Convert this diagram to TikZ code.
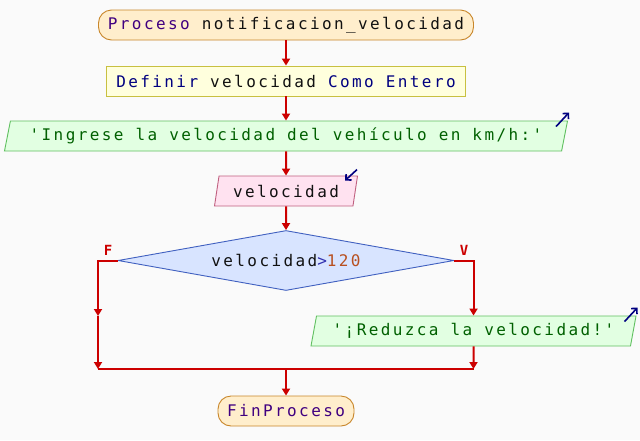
\documentclass[tikz,border=0pt]{standalone}
\usepackage{fontspec}
\setmonofont[LetterSpace=15]{DejaVu Sans Mono}
\usetikzlibrary{shapes.geometric,arrows.meta}

\definecolor{fondo}{HTML}{FAFAFA}
\definecolor{flecha}{HTML}{CC0000}
\definecolor{bordproc}{HTML}{C8862A}
\definecolor{rellproc}{HTML}{FFEECC}
\definecolor{borddef}{HTML}{C8C040}
\definecolor{relldef}{HTML}{FFFFDD}
\definecolor{bordesc}{HTML}{60C060}
\definecolor{rellesc}{HTML}{E2FFE2}
\definecolor{bordlee}{HTML}{C06080}
\definecolor{relllee}{HTML}{FFE2F0}
\definecolor{bordcond}{HTML}{4060C0}
\definecolor{rellcond}{HTML}{D8E4FF}
\definecolor{clave}{HTML}{400080}
\definecolor{tipo}{HTML}{000080}
\definecolor{cadena}{HTML}{006000}
\definecolor{numero}{HTML}{B85020}
\definecolor{oper}{HTML}{3030B0}
\definecolor{texto}{HTML}{111111}

\tikzset{
  caja/.style={draw, line width=0.9pt, text=texto, inner sep=0pt, minimum height=30pt,
    font=\ttfamily\fontsize{16}{16}\selectfont},
  terminal/.style={caja, rounded corners=13pt, draw=bordproc, fill=rellproc},
  definicion/.style={caja, draw=borddef, fill=relldef},
  paralelo/.style={caja, trapezium, trapezium left angle=70, trapezium right angle=110,
    trapezium stretches body},
  escribe/.style={paralelo, draw=bordesc, fill=rellesc, text=cadena},
  leer/.style={paralelo, draw=bordlee, fill=relllee},
  condicion/.style={caja, diamond, aspect=5.6, draw=bordcond, fill=rellcond, minimum width=336pt, minimum height=60pt},
  etiqueta/.style={text=flecha, font=\ttfamily\bfseries\fontsize{14}{14}\selectfont},
  flujo/.style={draw=flecha, line width=2pt, -{Triangle[width=8pt,length=7pt]}},
  linea/.style={draw=flecha, line width=2pt},
  icono/.style={draw=tipo, line width=1.6pt, -{Straight Barb[length=4pt,width=8pt]}}
}

\begin{document}
\begin{tikzpicture}[x=1pt,y=-1pt]
			\fill[fondo] (0,0) rectangle (640,440);

			\node (ini)[terminal, minimum width=375pt]at (286,25)  {\textcolor{clave}{Proceso} notificacion\_velocidad};
			\node (def)[definicion, minimum width=359pt]at (286,81)  {\textcolor{tipo}{Definir} velocidad \textcolor{tipo}{Como Entero}};
			\node (msg)[escribe, minimum width=563pt]at (286,136)  {'Ingrese la velocidad del vehículo en km/h:'};
			\node (lee)[leer, minimum width=143pt]at (286,191)  {velocidad};
			\node (cond)[condicion]at (286,260.5)  {velocidad\textcolor{oper}{>}\textcolor{numero}{120}};
			\node (aviso)[escribe, minimum width=325pt]at (473.5,331)  {'¡Reduzca la velocidad!'};
			\node (fin)[terminal, minimum width=136pt]at (286,411)  {\textcolor{clave}{FinProceso}};

			\node (f)[etiqueta]at (108,250)  {F};
			\node (v)[etiqueta]at (464,250)  {V};

			\coordinate (izqmed) at (98,316);
			\coordinate (izqbaj) at (98,369);
			\coordinate (derbaj) at (473.5,369);
			\coordinate (union) at (286,369);

			\draw[flujo] (ini)--(def);
			\draw[flujo] (def)--(msg);
			\draw[flujo] (msg)--(lee);
			\draw[flujo] (lee)--(cond);
			\draw[flujo] (cond.west)-|(izqmed);
			\draw[flujo] (izqmed)--(izqbaj);
			\draw[flujo] (cond.east)-|(aviso.north);
			\draw[flujo] (aviso.south)--(derbaj);
			\draw[linea] (izqbaj)--(derbaj);
			\draw[flujo] (union)--(fin);

			\draw[icono] (msg.top right corner) ++(-12,6)--++(13,-14);
			\draw[icono] (lee.top right corner) ++(-1,-6)--++(-12,11);
			\draw[icono] (aviso.top right corner) ++(-12,6)--++(13,-14);
		\end{tikzpicture}
\end{document}
